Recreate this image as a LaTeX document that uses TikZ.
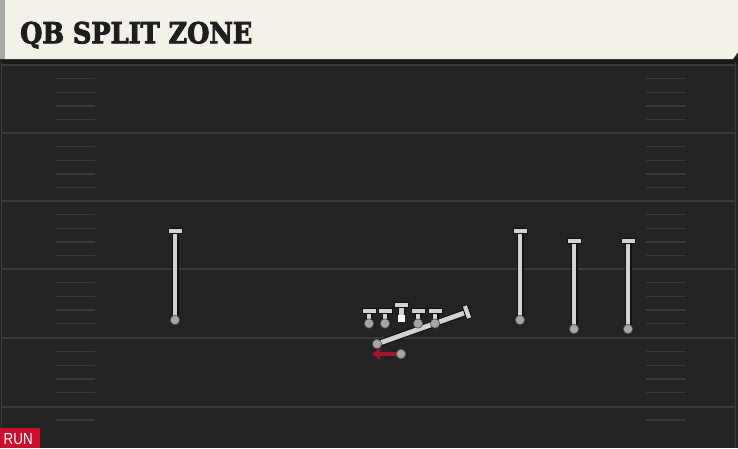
\documentclass[tikz,border=0pt]{standalone}
\usepackage{fontspec}
\font\titlefnt="DejaVu Serif Condensed Bold:embolden=3" at 29pt
\newfontfamily\labelfont{Liberation Sans}
\usetikzlibrary{arrows.meta}
\definecolor{hdr}{HTML}{F4F1EA}
\definecolor{hdrl}{HTML}{A8A8A4}
\definecolor{fieldc}{HTML}{232323}
\definecolor{band}{HTML}{1A1A1A}
\definecolor{yardc}{HTML}{3A3A3A}
\definecolor{hashc}{HTML}{383838}
\definecolor{routec}{HTML}{D2D2D2}
\definecolor{outl}{HTML}{121212}
\definecolor{dotc}{HTML}{A6A6A6}
\definecolor{runred}{HTML}{C8102E}
\definecolor{arrred}{HTML}{A3142F}
\definecolor{titlec}{HTML}{1E1E1E}
\tikzset{
  yard/.style={draw=yardc, line width=1.6pt},
  hashm/.style={draw=hashc, line width=1.3pt},
  routeout/.style={draw=outl, line width=7pt},
  routein/.style={draw=routec, line width=4.8pt},
  tbar/.style={rectangle, fill=routec, draw=outl, line width=1pt, minimum width=14pt, minimum height=5.4pt, inner sep=0pt},
  pdot/.style={circle, fill=dotc, draw=outl!60!dotc, line width=0.6pt, minimum size=9.4pt, inner sep=0pt},
  csq/.style={rectangle, fill=white, minimum size=7.5pt, inner sep=0pt},
}
\begin{document}
\begin{tikzpicture}[x=1pt,y=-1pt]
\useasboundingbox (0,0) rectangle (738,448);
% field
\fill[fieldc] (0,0) rectangle (738,448);
\fill[band] (0,58) rectangle (738,64);
\draw[draw=yardc, line width=1pt] (1.5,62) -- (1.5,448);
\draw[draw=yardc, line width=1pt] (735.5,62) -- (735.5,448);
% yard lines
\foreach \y in {65,133,201,269,338,407} {\draw[yard] (2,\y) -- (735,\y);}
% hash marks
\foreach \b in {65,133,201,269,338} {
  \foreach \k in {1,2,3,4} {
    \pgfmathsetmacro{\yy}{\b+13.7*\k}
    \draw[hashm] (56,\yy) -- (95,\yy);
    \draw[hashm] (646,\yy) -- (686,\yy);
  }
}
\draw[hashm] (56,420) -- (95,420);
\draw[hashm] (646,420) -- (686,420);
% header
\fill[hdr] (0,0) -- (738,0) -- (738,52) -- (733,59) -- (0,59) -- cycle;
\fill[hdrl] (0,0) rectangle (5,59);
\node[anchor=base west, inner sep=0pt, text=titlec, xscale=0.98] (title) at (20,43.3)
  {\titlefnt QB SPLIT ZONE};
% receivers
\foreach \n/\x/\t/\d in {wa/175/231/320, wb/520/231/320, wc/574/241/329, wd/628/241/329} {
  \coordinate (\n s) at (\x,\d);
  \coordinate (\n e) at (\x,\t);
  \draw[routeout] (\n s) -- (\n e);
  \draw[routein] (\n s) -- (\n e);
  \node[tbar] (\n bar) at (\n e) {};
  \node[pdot] (\n dot) at (\n s) {};
}
% QB path
\coordinate (qbs) at (377,344);
\coordinate (qbe) at (467,312);
\draw[routeout] (qbs) -- (qbe);
\draw[routein] (qbs) -- (qbe);
\node[tbar, rotate=-70.4] (qbbar) at (qbe) {};
\node[pdot] (qbdot) at (qbs) {};
% linemen
\foreach \n/\x in {la/369, lb/385, ld/418, le/435} {
  \coordinate (\n s) at (\x,323.5);
  \coordinate (\n e) at (\x,311);
  \draw[routeout] (\n s) -- (\n e);
  \draw[routein] (\n s) -- (\n e);
  \node[tbar] (\n bar) at (\n e) {};
  \node[pdot] (\n dot) at (\n s) {};
}
\coordinate (lcs) at (401.5,316);
\coordinate (lce) at (401.5,305);
\draw[routeout] (lcs) -- (lce);
\draw[routein] (lcs) -- (lce);
\node[tbar] (lcbar) at (lce) {};
\node[csq] (center) at (401.5,318.5) {};
% running back
\coordinate (rbe) at (372,354);
\node[pdot] (rb) at (401,354) {};
\draw[draw=arrred, line width=4.2pt, -{Triangle[length=8pt,width=11pt]}] (rb.west) -- (rbe);
\node[pdot] (rb2) at (401,354) {};
% RUN tag
\fill[runred] (0,428) rectangle (40,448);
\node[anchor=base west, inner sep=0pt, text=white, xscale=0.84] (run) at (3.5,444.8)
  {\labelfont\fontsize{16}{16}\selectfont RUN};
\end{tikzpicture}
\end{document}
